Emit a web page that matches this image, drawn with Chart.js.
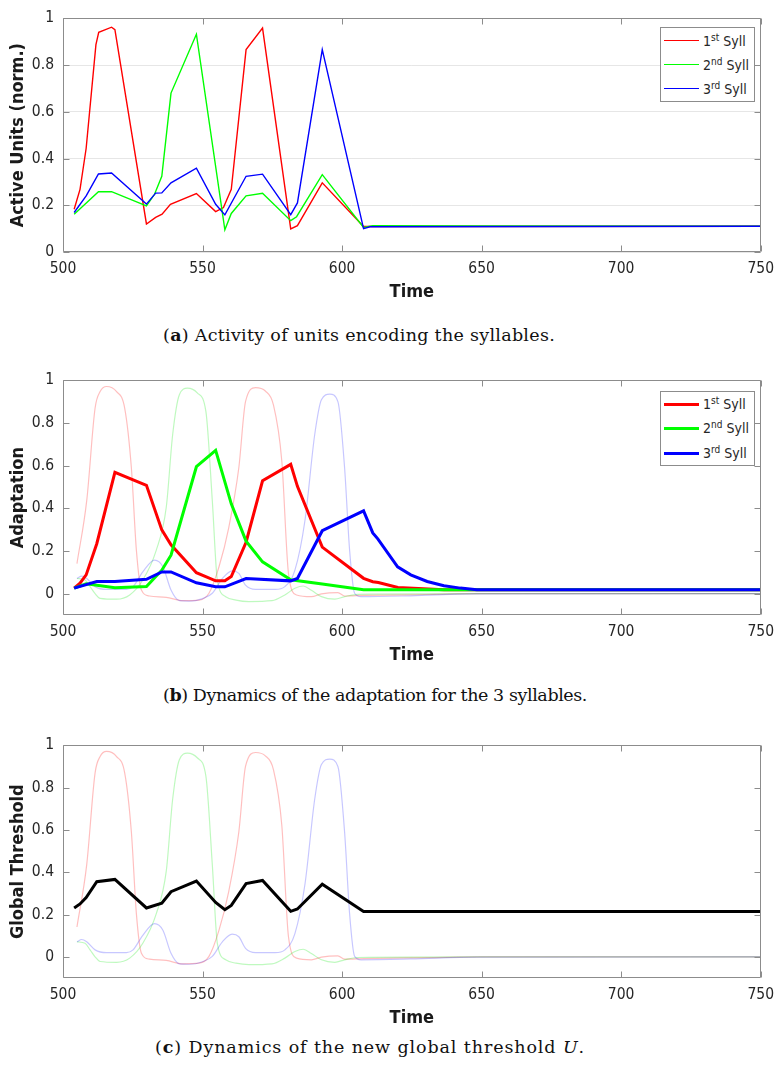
<!DOCTYPE html>
<html>
<head>
<meta charset="utf-8">
<script src="https://cdn.jsdelivr.net/npm/chart.js@4.4.1/dist/chart.umd.min.js"></script>
<style>
  body { margin: 0; background: #fff; width: 782px; height: 1074px; position: relative; overflow: hidden; }
  canvas { position: absolute; left: 0; }
  .legend { position: absolute; left: 660px; width: 95px; height: 75px; border: 1px solid #8c8c8c; background: #fff;
            box-sizing: border-box; font-family: 'DejaVu Sans Condensed', 'DejaVu Sans', sans-serif; font-size: 14px; color: #262626; }
  .legend .row { position: absolute; left: 0; width: 100%; height: 20px; }
  .legend .swatch { position: absolute; left: 3px; width: 35px; top: 50%; }
  .legend .label { position: absolute; left: 42px; top: 1px; white-space: nowrap; line-height: 18px; }
  .legend sup { font-size: 10px; vertical-align: 5px; line-height: 0; }
  .caption { position: absolute; font-family: 'DejaVu Serif', serif; font-size: 17.5px; color: #111; white-space: nowrap; line-height: 24px; }
</style>
</head>
<body>
<canvas id="chartA" width="782" height="305" style="top:0px"></canvas>
<canvas id="chartB" width="782" height="306" style="top:362px"></canvas>
<canvas id="chartC" width="782" height="304" style="top:727px"></canvas>

<div class="legend" id="legendA" style="top:27px"></div>
<div class="legend" id="legendB" style="top:391px"></div>

<div class="caption" data-w="392" style="left:163px; top:323px">(<b>a</b>) Activity of units encoding the syllables.</div>
<div class="caption" data-w="424" style="left:163px; top:683px">(<b>b</b>) Dynamics of the adaptation for the 3 syllables.</div>
<div class="caption" data-w="430" style="left:155px; top:1035px">(<b>c</b>) Dynamics of the new global threshold <i>U</i>.</div>

<script>
// axes
const xTicks = [500, 550, 600, 650, 700, 750];
const yTicks = [0, 0.2, 0.4, 0.6, 0.8, 1];
const yTickLabels = ['0', '0.2', '0.4', '0.6', '0.8', '1'];
const syllables = [['1', 'st'], ['2', 'nd'], ['3', 'rd']];
const colors = ['#ff0000', '#00ff00', '#0000ff'];
const fadedColors = ['rgba(255,0,0,0.25)', 'rgba(0,230,0,0.25)', 'rgba(0,0,255,0.22)'];

// (a) active units
const redTimeA = [504, 506.1, 508.3, 511.8, 512.8, 517.4, 518.6, 529.9, 533.2, 535.5, 538.5, 547.8, 554.7, 557.5, 560.3, 565.6, 571.5, 581.6, 584, 592.9, 607.7, 750];
const redActive = [0.183, 0.268, 0.444, 0.887, 0.94, 0.962, 0.951, 0.12, 0.148, 0.162, 0.204, 0.25, 0.173, 0.19, 0.268, 0.866, 0.958, 0.099, 0.113, 0.296, 0.109, 0.11];
const greenTimeA = [504, 512.7, 517.4, 529.9, 532.8, 535.4, 538.7, 547.8, 558, 560.3, 565.6, 571.5, 581.6, 583.7, 592.9, 607.7, 611, 650, 750];
const greenActive = [0.162, 0.258, 0.258, 0.197, 0.247, 0.324, 0.68, 0.932, 0.095, 0.165, 0.24, 0.251, 0.134, 0.151, 0.331, 0.105, 0.113, 0.111, 0.11];
const blueTimeA = [504, 508.3, 512.7, 517.4, 529.9, 533.2, 535.4, 538.7, 547.8, 554.7, 558, 565.6, 571.5, 581.6, 584, 592.9, 607.7, 610, 750];
const blueActive = [0.169, 0.24, 0.334, 0.338, 0.205, 0.252, 0.253, 0.296, 0.359, 0.204, 0.159, 0.324, 0.333, 0.16, 0.21, 0.866, 0.10, 0.108, 0.11];

// (b) adaptation
const redTimeB = [504, 506.1, 508.3, 512.1, 518.6, 529.9, 535.4, 538.7, 547.8, 554.7, 558, 560.3, 565.6, 571.5, 581.6, 584, 592.9, 607.7, 611, 613, 620, 636.5, 750];
const redAdapt = [0.026, 0.049, 0.088, 0.234, 0.569, 0.508, 0.299, 0.229, 0.098, 0.06, 0.06, 0.08, 0.241, 0.529, 0.606, 0.503, 0.218, 0.072, 0.056, 0.052, 0.029, 0.018, 0.018];
const greenTimeB = [504, 508.3, 518.6, 529.9, 535.4, 538.7, 547.8, 554.7, 560.3, 565.6, 571.5, 581.6, 592.9, 607.7, 750];
const greenAdapt = [0.026, 0.046, 0.028, 0.034, 0.11, 0.18, 0.595, 0.672, 0.421, 0.246, 0.149, 0.065, 0.045, 0.018, 0.018];
const blueTimeB = [504, 512.1, 518.6, 529.9, 535.4, 538.7, 547.8, 554.7, 558, 565.6, 581.6, 584, 592.9, 607.7, 611, 612.8, 619.9, 624.6, 630.5, 636.5, 642.4, 648.3, 750];
const blueAdapt = [0.026, 0.057, 0.057, 0.067, 0.102, 0.102, 0.051, 0.032, 0.032, 0.071, 0.06, 0.071, 0.295, 0.388, 0.285, 0.257, 0.126, 0.088, 0.057, 0.037, 0.026, 0.018, 0.018];

// faded activity traces behind (b) and (c)
const redTimeF = [505, 508.5, 511.5, 513.3, 515.6, 519.2, 522.1, 524.5, 526.3, 528.1, 531, 537, 542.9, 548.8, 552.3, 555.9, 559.4, 563, 565.4, 569, 572.5, 575.4, 578.4, 580.8, 583.7, 589, 592.6, 598.5, 600.9, 608, 630, 650, 750];
const redFaded = [0.141, 0.436, 0.87, 0.947, 0.971, 0.947, 0.87, 0.59, 0.203, 0.017, -0.011, -0.017, -0.033, -0.03, 0.002, 0.126, 0.31, 0.59, 0.9, 0.966, 0.95, 0.885, 0.622, 0.094, -0.006, -0.014, -0.001, 0.005, -0.011, -0.008, -0.004, 0, 0];
const greenTimeF = [505, 507.9, 509.7, 511.5, 513.3, 519.2, 523.9, 528.6, 533.4, 537, 539.3, 541.7, 544.6, 548.2, 551.2, 553.5, 555.3, 558.3, 562, 566.6, 574.9, 579.5, 583.1, 586.1, 589, 592.6, 597.4, 600.9, 605.6, 650, 750];
const greenFaded = [0.071, 0.064, 0.033, 0.0, -0.022, -0.026, -0.006, 0.064, 0.203, 0.405, 0.746, 0.932, 0.963, 0.94, 0.854, 0.436, 0.064, -0.014, -0.03, -0.037, -0.033, -0.006, 0.025, 0.036, 0.016, -0.014, -0.026, -0.014, -0.003, 0, 0];
const blueTimeF = [505, 506.7, 508.5, 511.5, 515.6, 522.7, 525.1, 528.6, 532.8, 535.8, 538.7, 541.7, 545.2, 550, 553.5, 557.1, 560.6, 563, 565.4, 569, 576, 579.5, 583.1, 586.7, 590.2, 592.6, 595.6, 598.5, 600.9, 602.7, 604.5, 606.8, 624.6, 648.3, 750];
const blueFaded = [0.071, 0.082, 0.071, 0.033, 0.02, 0.02, 0.033, 0.102, 0.157, 0.126, 0.017, -0.033, -0.035, -0.023, 0.002, 0.071, 0.107, 0.095, 0.04, 0.02, 0.02, 0.033, 0.11, 0.343, 0.746, 0.909, 0.935, 0.9, 0.59, 0.203, 0.002, -0.014, -0.01, -0.001, 0];

// (c) global threshold
const thresholdTime = [504, 506.1, 508.3, 512.1, 518.6, 529.9, 535.4, 538.7, 547.8, 554.7, 558, 560.3, 565.6, 571.5, 581.6, 584, 592.9, 607.7, 750];
const threshold = [0.231, 0.25, 0.28, 0.355, 0.366, 0.231, 0.254, 0.308, 0.358, 0.257, 0.223, 0.243, 0.346, 0.361, 0.215, 0.226, 0.343, 0.214, 0.214];

const FONT = "'DejaVu Sans Condensed', 'DejaVu Sans', sans-serif";
const tickFont = { family: FONT, size: 15.5 };
const titleFont = { family: FONT, size: 18, weight: 'bold' };

function pts(t, v) { return t.map((x, i) => ({ x: x, y: v[i] })); }

// lower order is painted later (on top), so blue ends up above green above red like in MATLAB
function line(t, v, color, width, order, smooth) {
  return {
    data: pts(t, v), borderColor: color, borderWidth: width, order: order,
    pointRadius: 0, fill: false, cubicInterpolationMode: smooth ? 'monotone' : 'default', tension: 0
  };
}

function fadedLines() {
  return [
    line(redTimeF, redFaded, fadedColors[0], 1.2, 7, true),
    line(greenTimeF, greenFaded, fadedColors[1], 1.2, 6, true),
    line(blueTimeF, blueFaded, fadedColors[2], 1.2, 5, true)
  ];
}

// MATLAB-like box with inward ticks on all four sides
const boxPlugin = {
  id: 'box',
  afterDatasetsDraw(chart) {
    const { ctx, chartArea: a, scales: { x, y } } = chart;
    const L = Math.round(a.left) + 0.5, R = Math.round(a.right) - 0.5;
    const T = Math.round(a.top) + 0.5, B = Math.round(a.bottom) - 0.5;
    ctx.save();
    ctx.strokeStyle = '#8c8c8c';
    ctx.lineWidth = 1;
    ctx.beginPath();
    ctx.rect(L, T, R - L, B - T);
    xTicks.forEach(v => {
      const px = Math.round(x.getPixelForValue(v)) + 0.5;
      ctx.moveTo(px, B); ctx.lineTo(px, B - 6);
      ctx.moveTo(px, T); ctx.lineTo(px, T + 6);
    });
    yTicks.forEach(v => {
      const py = Math.round(y.getPixelForValue(v)) + 0.5;
      ctx.moveTo(L, py); ctx.lineTo(L + 6, py);
      ctx.moveTo(R, py); ctx.lineTo(R - 6, py);
    });
    ctx.stroke();
    ctx.restore();
  }
};

function panel(id, datasets, yMin, yTitle, grid) {
  return new Chart(document.getElementById(id), {
    type: 'line',
    data: { datasets: datasets },
    options: {
      responsive: false,
      animation: false,
      layout: { padding: { top: 15, right: 15, left: 0, bottom: 0 } },
      plugins: { legend: { display: false }, tooltip: { enabled: false } },
      scales: {
        x: {
          type: 'linear', min: 500, max: 750,
          afterBuildTicks: s => { s.ticks = xTicks.map(v => ({ value: v })); },
          afterFit: s => { s.height = 53; },
          grid: { display: false, drawTicks: false },
          border: { display: false },
          ticks: { padding: 8, color: '#262626', font: tickFont, maxRotation: 0, autoSkip: false, callback: v => String(v) },
          title: { display: true, text: 'Time', color: '#1a1a1a', font: titleFont, padding: { top: 0, bottom: 2 } }
        },
        y: {
          type: 'linear', min: yMin, max: 1,
          afterBuildTicks: s => { s.ticks = yTicks.map(v => ({ value: v })); },
          afterFit: s => { s.width = 63; },
          grid: { display: grid, color: '#e6e6e6', drawTicks: false },
          border: { display: false },
          ticks: { padding: 9, color: '#262626', font: tickFont, callback: (v, i) => yTickLabels[i] },
          title: { display: true, text: yTitle, color: '#1a1a1a', font: titleFont, padding: { top: 8, bottom: 0 } }
        }
      }
    },
    plugins: [boxPlugin]
  });
}

panel('chartA', [
  line(redTimeA, redActive, colors[0], 1.4, 2),
  line(greenTimeA, greenActive, colors[1], 1.4, 1),
  line(blueTimeA, blueActive, colors[2], 1.4, 0)
], 0, 'Active Units (norm.)', true);

panel('chartB', [
  line(redTimeB, redAdapt, colors[0], 3, 2),
  line(greenTimeB, greenAdapt, colors[1], 3, 1),
  line(blueTimeB, blueAdapt, colors[2], 3, 0)
].concat(fadedLines()), -0.1, 'Adaptation', false);

panel('chartC', [
  line(thresholdTime, threshold, '#000000', 3, 0)
].concat(fadedLines()), -0.1, 'Global Threshold', false);

// legends with superscript ordinals
function buildLegend(id, width, rows) {
  const box = document.getElementById(id);
  syllables.forEach((s, i) => {
    const row = document.createElement('div');
    row.className = 'row';
    row.style.top = (rows[i] - 10) + 'px';
    const sw = document.createElement('div');
    sw.className = 'swatch';
    sw.style.borderTop = width + 'px solid ' + colors[i];
    sw.style.marginTop = (-width / 2) + 'px';
    const lab = document.createElement('div');
    lab.className = 'label';
    lab.innerHTML = s[0] + '<sup>' + s[1] + '</sup> Syll';
    row.appendChild(sw);
    row.appendChild(lab);
    box.appendChild(row);
  });
}
buildLegend('legendA', 1.5, [13, 37, 61]);
buildLegend('legendB', 3, [12, 36, 61]);

// stretch each caption to the width of the original typeset line
document.querySelectorAll('.caption').forEach(el => {
  const target = +el.dataset.w;
  const n = el.textContent.length;
  const natural = el.getBoundingClientRect().width;
  el.style.letterSpacing = ((target - natural) / n) + 'px';
});
</script>
</body>
</html>
